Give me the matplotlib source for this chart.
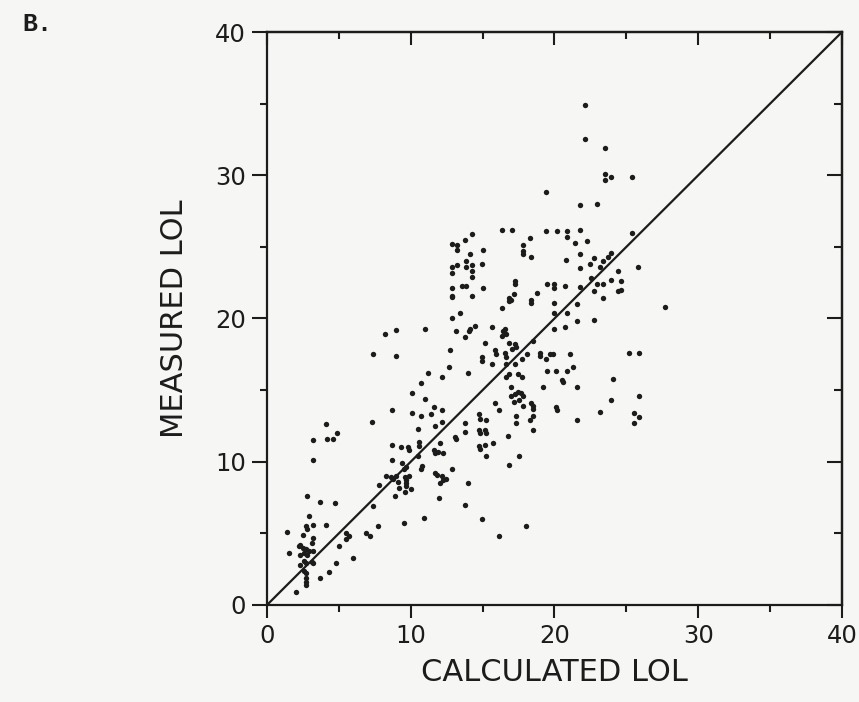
import matplotlib
matplotlib.use("Agg")
import matplotlib.pyplot as plt
from matplotlib.ticker import MultipleLocator

# calculated vs measured LOL
calc = [
    10.7, 10.1, 11.0, 11.6, 12.15, 10.1, 10.7, 11.4, 8.7, 7.3, 4.1, 3.2, 4.2, 4.6, 4.9, 3.2,
    10.5, 11.7, 12.15, 13.05, 10.6, 10.6, 8.7, 9.3, 9.8, 9.9, 11.6, 11.7, 11.9, 12.25, 12.05,
    8.7, 9.4, 9.7, 9.5, 10.5, 10.8, 10.7, 12.85, 11.7, 11.8, 12.15, 12.25, 12.05, 12.45,
    8.3, 8.6, 8.8, 9.0, 9.1, 9.6, 9.7, 9.7, 9.7, 9.9, 10.0, 9.6, 9.2, 8.9, 7.8, 7.4, 11.95,
    10.9, 9.5, 7.7, 6.9, 7.2, 5.5, 5.7, 5.5, 5.0, 6.0, 4.8, 4.3, 3.7, 2.0, 2.8, 3.7, 4.7,
    2.9, 2.7, 2.8, 3.2, 4.1, 1.4, 2.5, 3.2, 3.1, 2.3, 2.5, 2.2, 2.7, 2.9, 3.2, 2.6, 2.3,
    2.8, 1.5, 2.6, 2.7, 3.1, 2.3, 3.2, 2.6, 2.7, 2.7, 2.7, 2.7,
    19.2, 20.6, 16.95, 16.95, 17.25, 17.45, 17.65, 17.8, 17.15, 17.55, 17.8, 15.85, 16.15,
    18.4, 18.5, 18.5, 20.1, 20.2, 21.6, 14.75, 14.85, 15.25, 17.35, 17.35, 18.5, 18.3, 18.5,
    13.75, 13.75, 13.15, 14.75, 14.85, 15.15, 15.25, 14.75, 14.85, 15.15, 15.75, 16.75,
    15.25, 17.55, 16.85, 13.95, 13.75, 14.95, 16.15, 18.0,
    19.4, 21.8, 22.95, 16.35, 17.05, 19.4, 20.2, 20.9, 21.8, 20.9, 21.4, 22.25, 14.25, 13.75,
    12.85, 13.25, 17.8, 18.3, 17.8, 17.8, 18.4, 13.25, 15.05, 14.15, 21.8, 22.75, 20.8,
    13.85, 14.25, 13.85, 12.85, 13.25, 12.85, 14.95, 21.8, 22.45, 14.25, 14.25, 13.6, 13.85,
    17.25, 17.25, 19.5, 20.0, 20.0, 20.7, 21.8, 22.55, 22.95, 22.75, 12.85, 12.85, 12.9,
    15.05, 14.25, 17.15, 16.85, 16.85, 16.95, 18.4, 18.4, 18.8, 20.0, 21.6, 16.35, 13.45,
    20.0, 20.9, 22.75, 12.85, 11.0, 14.45, 14.15, 14.05, 15.65, 13.15, 16.55, 16.45, 16.65,
    16.35, 20.0, 20.7, 21.6, 13.75, 15.15, 16.85, 17.05, 17.25, 17.35, 18.5, 12.75, 15.85,
    15.95, 16.55, 16.65, 18.1, 19.0, 19.0, 19.7, 19.9, 21.1, 14.95, 14.95, 15.65, 16.65,
    17.25, 17.75, 19.4, 12.65, 11.2, 12.15, 13.95, 19.5, 20.1, 20.9, 21.3, 16.65, 16.85,
    17.45, 17.75, 20.5, 21.6,
    23.5, 23.5, 23.9, 25.4, 25.4, 23.9, 23.7, 23.4, 23.2, 25.8, 24.4, 23.9, 24.6, 23.4,
    24.6, 24.4, 23.4, 27.7, 25.2, 25.9, 24.1, 25.9, 23.9,
    23.2, 25.5, 25.9, 25.5,
    8.2, 9.0, 7.4, 9.0,
    22.1, 22.1, 23.5,
]
meas = [
    15.5, 14.8, 14.4, 13.8, 13.6, 13.4, 13.2, 13.3, 13.6, 12.8, 12.6, 11.5, 11.6, 11.6, 12.0, 10.1,
    12.3, 12.5, 12.8, 11.7, 11.4, 11.1, 11.2, 11.0, 11.0, 10.8, 10.8, 10.6, 10.7, 10.6, 11.3,
    10.1, 9.9, 9.6, 9.5, 10.4, 9.7, 9.5, 9.5, 9.2, 9.1, 9.0, 8.7, 8.5, 8.8,
    9.0, 8.9, 8.8, 9.0, 8.6, 8.9, 8.7, 8.5, 8.3, 9.0, 8.1, 7.9, 8.2, 7.6, 8.4, 6.9, 7.5,
    6.1, 5.7, 5.5, 5.0, 4.8, 5.0, 4.8, 4.6, 4.1, 3.3, 2.9, 2.3, 1.9, 0.9, 7.6, 7.2, 7.1,
    6.2, 5.5, 5.3, 5.6, 5.6, 5.1, 4.9, 4.7, 4.3, 4.2, 4.0, 4.1, 3.9, 3.8, 3.8, 3.6, 3.5,
    3.5, 3.6, 3.1, 2.9, 3.0, 2.8, 2.9, 2.4, 2.2, 1.9, 1.6, 1.4,
    15.2, 15.6, 15.2, 14.6, 14.7, 14.9, 14.8, 14.6, 14.2, 14.3, 13.9, 14.1, 13.6,
    14.1, 13.9, 13.7, 13.8, 13.6, 12.9, 13.3, 13.0, 12.9, 13.2, 12.7, 13.2, 12.9, 12.2,
    12.7, 12.1, 11.6, 12.2, 12.0, 12.2, 12.0, 11.1, 10.9, 11.2, 11.3, 11.8,
    10.4, 10.4, 9.8, 8.5, 7.0, 6.0, 4.8, 5.5,
    28.8, 27.9, 28.0, 26.2, 26.2, 26.1, 26.1, 26.1, 26.2, 25.7, 25.3, 25.4, 25.9, 25.5,
    25.2, 25.1, 25.1, 25.6, 24.7, 24.5, 24.3, 24.8, 24.8, 24.5, 24.5, 24.2, 24.1,
    24.0, 23.7, 23.6, 23.6, 23.7, 23.2, 23.8, 23.5, 23.8, 23.3, 22.9, 22.3, 22.3,
    22.6, 22.4, 22.4, 22.4, 22.1, 22.3, 22.2, 22.8, 22.4, 21.9, 22.1, 21.6, 21.5,
    22.1, 21.6, 21.7, 21.4, 21.2, 21.3, 21.3, 21.1, 21.8, 21.1, 21.0, 20.7, 20.4,
    20.4, 20.4, 19.9, 20.0, 19.3, 19.5, 19.3, 19.1, 19.4, 19.1, 19.3, 19.1, 18.9,
    18.8, 19.3, 19.4, 19.8, 18.7, 18.3, 18.3, 17.9, 18.2, 18.0, 18.4, 17.8, 17.8,
    17.5, 17.6, 17.3, 17.5, 17.6, 17.4, 17.5, 17.5, 17.5, 17.3, 17.0, 16.8, 16.8,
    16.8, 17.2, 17.2, 16.6, 16.2, 15.9, 16.2, 16.3, 16.3, 16.3, 16.6, 15.9, 16.1,
    16.1, 15.9, 15.7, 15.2,
    30.1, 29.7, 29.9, 29.9, 26.0, 24.6, 24.3, 24.0, 23.6, 23.6, 23.3, 22.7, 22.6, 22.4,
    22.0, 21.9, 21.4, 20.8, 17.6, 17.6, 15.8, 14.6, 14.3,
    13.5, 13.4, 13.1, 12.7,
    18.9, 19.2, 17.5, 17.4,
    34.9, 32.5, 31.9,
]
one_to_one = [0, 40]
ticks = [0, 10, 20, 30, 40]

ink = "#1c1c1c"
paper = "#f6f6f4"

fig = plt.figure(figsize=(8.59, 7.02), dpi=100, facecolor=paper)
ax = fig.add_axes([0.3108, 0.1382, 0.6694, 0.8162], facecolor=paper)

ax.scatter(calc, meas, s=15, color=ink, linewidths=0, zorder=3)
ax.plot(one_to_one, one_to_one, color=ink, lw=1.6, zorder=2)

ax.set_xlim(0, 40)
ax.set_ylim(0, 40)
ax.set_xticks(ticks)
ax.set_yticks(ticks)
ax.xaxis.set_minor_locator(MultipleLocator(5))
ax.yaxis.set_minor_locator(MultipleLocator(5))

for s in ax.spines.values():
    s.set_linewidth(1.6)
    s.set_color(ink)

ax.tick_params(axis="x", which="major", direction="out", length=9.5, width=1.5,
               pad=4, labelsize=17.5, colors=ink)
ax.tick_params(axis="y", which="major", direction="out", length=11, width=1.5,
               pad=4, labelsize=17.5, colors=ink)
ax.tick_params(which="minor", direction="out", length=5, width=1.5, colors=ink)

# inward ticks on top and right
top = ax.secondary_xaxis("top")
top.set_xticks(ticks)
top.xaxis.set_minor_locator(MultipleLocator(5))
top.tick_params(which="major", direction="in", length=9.5, width=1.5, labeltop=False, colors=ink)
top.tick_params(which="minor", direction="in", length=5, width=1.5, colors=ink)
top.spines["top"].set_linewidth(1.6)

right = ax.secondary_yaxis("right")
right.set_yticks(ticks)
right.yaxis.set_minor_locator(MultipleLocator(5))
right.tick_params(which="major", direction="in", length=11, width=1.5, labelright=False, colors=ink)
right.tick_params(which="minor", direction="in", length=5.5, width=1.5, colors=ink)
right.spines["right"].set_linewidth(1.6)

ax.set_xlabel("CALCULATED LOL", fontsize=22, color=ink, va="center")
ax.xaxis.set_label_coords(0.5, -0.117)
ax.set_ylabel("MEASURED LOL", fontsize=22, color=ink, va="center", ha="center")
ax.yaxis.set_label_coords(-0.16, 0.5)

fig.text(0.026, 0.966, "B.", family="Liberation Mono", weight="bold",
         fontsize=18, color=ink, va="center", ha="left")

fig.savefig("out.png", dpi=100, facecolor=paper)
